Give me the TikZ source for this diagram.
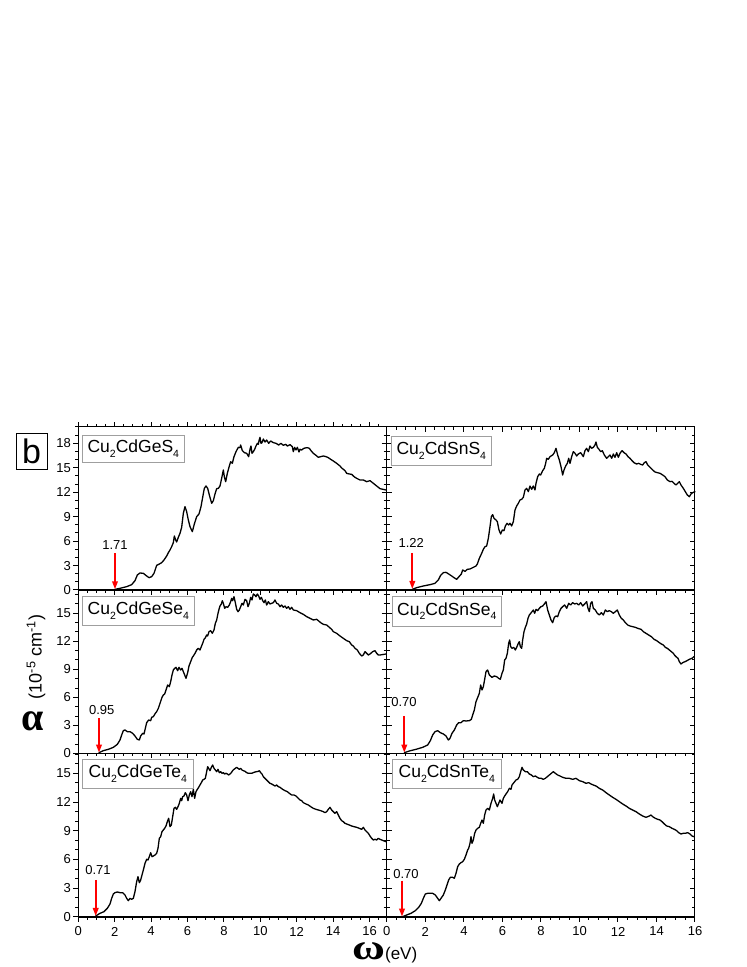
\documentclass[tikz,border=0pt]{standalone}
\usepackage{fontspec}
\setmainfont{Liberation Sans}
\newfontfamily\grkfont{Liberation Serif}
\usetikzlibrary{arrows.meta}
\newcommand\mysub[1]{\raisebox{-4.5pt}{\fontsize{10.5}{10.5}\selectfont #1}}
\begin{document}
\begin{tikzpicture}[x=1pt,y=1pt,
  frame/.style={line width=1.4pt, black},
  tickline/.style={line width=1pt, black},
  curve/.style={line width=1.3pt, black, line join=round, line cap=round},
  gaparrow/.style={draw=red, line width=1.8pt, -{Triangle[length=8pt,width=5.5pt,fill=red]}},
  ticklab/.style={font=\fontsize{13}{15}\selectfont, inner sep=0pt},
  namebox/.style={draw=gray!75, line width=0.8pt, inner sep=0pt, font=\fontsize{17.5}{19}\selectfont},
]
\useasboundingbox (0,0) rectangle (747,967);
\fill[white] (0,0) rectangle (747,967);

% ---------- ticks ----------
\foreach \yb in {377,213.5,50}{
  \foreach \k in {0,2,...,16}{\draw[tickline] (78.3+18.2*\k,\yb) -- ++(0,-5);}
  \foreach \k in {0.5,1,...,16.5}{\draw[tickline] (78.3+18.2*\k,\yb) -- ++(0,-3);}
  \foreach \k in {0,2,...,16}{\draw[tickline] (386.5+19.27*\k,\yb) -- ++(0,-5);}
  \foreach \k in {0.5,1,...,15.5}{\draw[tickline] (386.5+19.27*\k,\yb) -- ++(0,-3);}
}
\foreach \k in {0,2,...,16}{\draw[tickline] (78.3+18.2*\k,540.3) -- ++(0,5);}
\foreach \k in {0.5,1,...,16.5}{\draw[tickline] (78.3+18.2*\k,540.3) -- ++(0,3);}
\foreach \k in {2,4,...,14}{\draw[tickline] (386.5+19.27*\k,540.3) -- ++(0,-5);}
\foreach \k in {0.5,1,...,15.5}{\draw[tickline] (386.5+19.27*\k,540.3) -- ++(0,-3);}

\foreach \yb/\sy/\ymaj/\ymin in {377/8.15/18/20, 213.5/9.35/15/17, 50/9.58/15/17}{
  \foreach \v in {0,3,...,\ymaj}{
    \draw[tickline] (78.3,\yb+\sy*\v) -- ++(-5,0);
    \draw[tickline] (381.5,\yb+\sy*\v) -- ++(10,0);
    \draw[tickline] (694.7,\yb+\sy*\v) -- ++(-5,0);
  }
  \foreach \v in {1,...,\ymin}{
    \draw[tickline] (78.3,\yb+\sy*\v) -- ++(-3,0);
    \draw[tickline] (383.5,\yb+\sy*\v) -- ++(6,0);
    \draw[tickline] (694.7,\yb+\sy*\v) -- ++(-3,0);
  }
}

% ---------- frames ----------
\draw[frame] (78.3,50) rectangle (694.7,540.3);
\draw[frame] (78.3,377) -- (694.7,377);
\draw[frame] (78.3,213.5) -- (694.7,213.5);
\draw[frame] (386.5,50) -- (386.5,540.3);

% ---------- tick labels ----------
\foreach \v in {0,3,...,18}{\node[ticklab, anchor=east] (ya\v) at (71,377+8.15*\v) {\v};}
\foreach \v in {0,3,...,15}{\node[ticklab, anchor=east] (yb\v) at (71,213.5+9.35*\v) {\v};}
\foreach \v in {0,3,...,15}{\node[ticklab, anchor=east] (yc\v) at (71,50+9.58*\v) {\v};}
\foreach \k in {0,2,...,16}{\node[ticklab] (xl\k) at (78.3+18.2*\k,35.5) {\k};}
\foreach \k in {0,2,...,16}{\node[ticklab] (xr\k) at (386.8+19.27*\k,35.5) {\k};}

% ---------- curves ----------
% A: Cu2CdGeS4
\begin{scope}[shift={(0,557)}, xscale=0.33333, yscale=-0.33333]
\draw[curve] plot coordinates {(345,538) (360,535) (380,530) (395,524) (405,512) (412,495) (420,489) (430,490) (440,498) (447,503) (455,500) (462,490) (470,466) (478,462) (485,458) (492,450) (500,438) (505,428) (510,420) (515,410) (520,398) (523,378) (527,390) (530,396) (535,382) (540,370) (545,352) (550,310) (555,290) (560,305) (565,330) (570,350) (577,365) (583,342) (590,320) (597,312) (603,290) (608,262) (613,235) (618,228) (623,235) (628,255) (635,280) (640,272) (645,252) (650,236) (655,235) (660,228) (665,205) (670,180) (673,200) (677,215) (682,190) (688,168) (692,155) (697,160) (702,140) (708,125) (715,112) (720,113) (722,105) (727,122) (733,128) (740,130) (746,140) (750,118) (753,108) (756,130) (760,125) (764,118) (768,108) (772,100) (775,103) (778,88) (780,82) (783,100) (786,98) (790,87) (795,96) (800,90) (806,100) (812,93) (820,98) (828,100) (836,105) (843,100) (850,106) (857,103) (862,108) (870,104) (877,110) (880,125) (884,112) (888,120) (892,112) (897,126) (900,118) (905,120) (910,116) (915,114) (922,113) (928,115) (933,122) (940,130) (948,136) (955,142) (962,140) (970,138) (978,140) (985,143) (992,148) (1000,153) (1010,160) (1020,168) (1025,174) (1030,178) (1035,182) (1040,190) (1048,192) (1055,193) (1060,198) (1065,202) (1070,205) (1080,210) (1090,210) (1100,215) (1110,212) (1120,220) (1130,228) (1140,236) (1158,240)};
\end{scope}
% B: Cu2CdSnS4
\begin{scope}[shift={(370,557)}, xscale=0.33333, yscale=-0.33333]
\draw[curve] plot coordinates {(127,538) (140,533) (160,528) (180,524) (195,520) (205,510) (212,496) (220,488) (228,487) (236,492) (245,498) (252,503) (260,508) (267,500) (274,492) (278,480) (285,484) (292,478) (300,477) (310,472) (318,468) (322,462) (328,445) (335,430) (340,418) (345,410) (350,408) (355,385) (360,350) (364,320) (368,314) (372,325) (378,330) (382,335) (387,360) (392,372) (397,360) (402,362) (406,348) (411,340) (416,345) (420,340) (425,348) (430,335) (435,300) (440,288) (445,280) (450,270) (455,268) (460,262) (465,240) (470,235) (475,245) (480,228) (485,238) (490,228) (495,240) (498,220) (503,200) (508,192) (512,195) (518,182) (523,175) (527,160) (530,145) (535,148) (540,140) (548,135) (553,128) (558,115) (563,135) (568,150) (573,170) (578,195) (582,180) (587,168) (592,160) (596,145) (600,160) (605,140) (610,125) (615,130) (620,138) (625,132) (632,128) (640,140) (645,122) (650,115) (655,125) (660,108) (665,115) (670,112) (675,105) (678,96) (682,112) (687,118) (692,125) (697,122) (703,135) (710,145) (715,140) (720,135) (725,145) (730,132) (735,142) (740,128) (745,142) (750,130) (756,122) (762,128) (768,132) (774,140) (780,145) (786,152) (792,158) (800,162) (806,160) (812,163) (818,165) (823,158) (828,155) (833,165) (840,172) (848,180) (855,186) (862,188) (870,190) (878,195) (885,200) (892,210) (900,215) (906,214) (912,220) (918,225) (923,220) (928,215) (933,225) (940,235) (946,245) (952,255) (958,260) (963,252) (968,248) (975,245)};
\end{scope}
% C: Cu2CdGeSe4
\begin{scope}[shift={(0,387)}, xscale=0.33333, yscale=-0.33333]
\draw[curve] plot coordinates {(297,518) (310,512) (325,508) (340,502) (352,493) (360,480) (365,465) (370,452) (375,450) (382,455) (390,455) (398,460) (405,468) (412,478) (418,480) (422,468) (428,460) (432,462) (436,445) (440,428) (446,420) (452,422) (455,412) (460,410) (466,400) (470,395) (475,385) (480,370) (486,352) (490,345) (494,342) (498,330) (503,315) (508,320) (512,305) (516,285) (520,270) (524,265) (528,262) (533,272) (537,262) (542,270) (546,265) (550,275) (554,285) (558,295) (563,278) (567,258) (572,245) (577,232) (580,228) (585,220) (590,210) (595,205) (600,210) (604,200) (608,190) (612,178) (615,175) (620,165) (623,168) (627,155) (632,152) (637,160) (642,150) (646,130) (650,120) (654,100) (657,88) (660,78) (664,72) (667,62) (670,70) (674,85) (678,80) (683,82) (688,75) (692,65) (695,55) (698,62) (702,50) (706,68) (710,88) (714,95) (718,90) (722,80) (726,70) (730,75) (735,58) (740,62) (744,80) (748,70) (752,52) (756,60) (760,42) (764,45) (768,50) (772,42) (776,48) (780,58) (784,52) (788,62) (792,68) (796,60) (800,75) (805,65) (810,72) (815,70) (820,68) (825,60) (830,70) (835,72) (840,80) (845,75) (850,82) (855,78) (860,85) (865,80) (870,88) (875,82) (880,90) (890,92) (900,98) (910,103) (920,110) (930,115) (940,120) (950,118) (955,122) (962,128) (970,133) (980,135) (988,142) (995,148) (1000,155) (1010,160) (1020,168) (1030,175) (1040,182) (1048,185) (1055,195) (1060,198) (1065,205) (1072,210) (1078,220) (1085,228) (1090,225) (1095,215) (1100,220) (1105,225) (1110,222) (1118,215) (1125,212) (1130,220) (1135,225) (1140,225) (1158,222)};
\end{scope}
% D: Cu2CdSnSe4 and F: Cu2CdSnTe4
\begin{scope}[shift={(386,377)}, xscale=0.33333, yscale=-0.33333]
\draw[curve] plot coordinates {(55,488) (70,483) (90,478) (110,472) (125,465) (133,452) (140,435) (147,425) (155,422) (163,428) (172,432) (180,438) (187,450) (192,445) (198,430) (205,420) (212,405) (218,398) (225,398) (232,392) (240,393) (250,392) (256,388) (260,375) (265,360) (270,335) (276,320) (280,310) (284,285) (288,300) (292,290) (296,268) (300,245) (305,240) (310,255) (318,262) (325,258) (332,260) (338,265) (343,268) (348,250) (352,240) (356,210) (360,205) (364,190) (368,160) (371,150) (374,170) (378,175) (383,172) (388,180) (392,172) (397,160) (400,155) (403,170) (407,175) (410,150) (414,125) (418,112) (422,102) (426,85) (430,75) (434,70) (438,65) (442,60) (446,70) (450,58) (455,62) (460,55) (465,50) (470,48) (475,42) (480,35) (485,60) (490,75) (495,90) (500,98) (505,82) (510,78) (515,80) (520,65) (525,55) (530,50) (536,45) (542,55) (548,40) (554,45) (560,38) (566,42) (572,40) (578,45) (584,38) (590,48) (596,42) (602,35) (606,55) (610,65) (614,40) (618,35) (622,55) (628,60) (634,70) (640,75) (646,68) (652,75) (658,60) (664,65) (670,62) (676,65) (682,70) (688,65) (694,60) (700,75) (706,85) (712,90) (718,98) (725,105) (732,108) (740,110) (748,112) (755,115) (765,118) (772,125) (780,130) (788,135) (796,140) (804,148) (812,152) (820,158) (826,162) (832,165) (838,172) (844,175) (850,180) (856,185) (862,190) (866,196) (870,200) (876,205) (880,215) (885,222) (890,218) (897,215) (903,212) (910,208) (918,205) (924,200)};
\draw[curve] plot coordinates {(50,980) (62,975) (75,970) (88,962) (98,952) (106,940) (112,925) (118,912) (125,910) (132,910) (140,910) (148,915) (155,925) (160,932) (165,925) (172,915) (178,900) (183,885) (188,870) (193,862) (200,862) (205,865) (210,850) (215,830) (220,822) (225,818) (230,815) (235,808) (240,795) (245,780) (248,775) (252,760) (255,740) (258,760) (262,750) (266,730) (270,720) (275,715) (280,712) (284,700) (288,690) (292,700) (296,675) (300,660) (305,655) (310,660) (315,640) (320,625) (323,612) (326,630) (330,640) (334,650) (338,640) (342,630) (348,640) (352,625) (356,618) (360,612) (365,605) (370,595) (375,598) (378,585) (382,580) (386,575) (390,570) (395,568) (400,560) (404,545) (408,532) (412,540) (418,545) (424,545) (430,552) (436,555) (442,560) (448,558) (454,562) (460,565) (466,565) (472,568) (478,565) (484,560) (490,555) (496,550) (502,545) (508,550) (515,555) (522,558) (530,562) (540,565) (550,565) (560,568) (570,565) (580,572) (590,575) (600,580) (608,578) (615,582) (622,585) (630,588) (640,595) (650,600) (660,608) (670,615) (680,622) (690,628) (700,635) (710,642) (720,648) (730,655) (740,660) (750,665) (760,672) (770,678) (780,682) (785,680) (790,678) (795,675) (800,680) (808,685) (815,688) (822,690) (828,695) (835,702) (842,708) (850,710) (858,715) (865,718) (872,722) (878,728) (885,732) (892,730) (898,730) (905,728) (912,732) (918,738) (924,740)};
\end{scope}
% E: Cu2CdGeTe4
\begin{scope}[shift={(0,217)}, xscale=0.33333, yscale=-0.33333]
\draw[curve] plot coordinates {(287,498) (300,490) (312,485) (322,475) (330,462) (335,445) (340,432) (345,428) (352,426) (360,428) (368,428) (375,435) (380,445) (385,452) (390,445) (395,448) (400,445) (405,425) (410,395) (414,380) (418,398) (422,390) (426,375) (430,360) (435,340) (440,328) (444,330) (448,320) (452,308) (456,320) (460,318) (465,315) (470,310) (474,295) (478,265) (482,260) (486,245) (490,240) (494,235) (498,228) (502,215) (506,205) (510,230) (514,225) (518,200) (522,175) (526,172) (530,178) (534,170) (538,160) (542,145) (545,152) (548,140) (552,138) (556,128) (560,135) (564,152) (568,135) (572,125) (576,140) (580,118) (584,145) (588,125) (592,118) (596,112) (600,105) (604,98) (608,90) (612,88) (616,85) (620,65) (623,50) (626,55) (630,62) (634,52) (638,45) (642,55) (646,60) (650,65) (654,58) (658,68) (662,65) (666,70) (670,68) (674,72) (678,70) (682,72) (686,75) (690,72) (694,68) (698,62) (702,58) (706,55) (710,52) (714,55) (718,58) (722,55) (726,60) (730,62) (735,64) (740,68) (745,70) (750,70) (755,70) (760,68) (765,66) (770,65) (775,64) (778,62) (782,68) (786,72) (790,80) (795,85) (800,90) (805,95) (810,100) (815,102) (820,105) (825,108) (830,105) (835,110) (840,112) (848,118) (855,122) (862,125) (868,130) (875,135) (882,135) (888,138) (895,145) (900,150) (905,152) (910,158) (918,162) (925,165) (932,170) (940,175) (948,178) (955,180) (962,182) (970,185) (975,188) (980,185) (985,178) (990,172) (995,180) (1000,185) (1005,190) (1010,185) (1015,195) (1020,205) (1025,212) (1030,215) (1035,220) (1040,222) (1048,225) (1055,228) (1062,230) (1070,232) (1078,235) (1085,238) (1090,232) (1095,240) (1100,245) (1105,250) (1110,258) (1115,265) (1120,270) (1125,268) (1130,270) (1135,265) (1140,268) (1150,272) (1158,275)};
\end{scope}

% ---------- compound name boxes ----------
\node[namebox, minimum width=102pt, minimum height=27.7pt] (boxA) at (133.3,518.2) {Cu\mysub{2}CdGeS\mysub{4}};
\node[namebox, minimum width=99.3pt, minimum height=29pt] (boxB) at (441.3,516.5) {Cu\mysub{2}CdSnS\mysub{4}};
\node[namebox, minimum width=112pt, minimum height=29pt] (boxC) at (138.3,356.5) {Cu\mysub{2}CdGeSe\mysub{4}};
\node[namebox, minimum width=108.3pt, minimum height=29.3pt] (boxD) at (446.8,355.6) {Cu\mysub{2}CdSnSe\mysub{4}};
\node[namebox, minimum width=111pt, minimum height=29pt] (boxE) at (137.8,193.2) {Cu\mysub{2}CdGeTe\mysub{4}};
\node[namebox, minimum width=108.3pt, minimum height=29pt] (boxF) at (446.8,193.2) {Cu\mysub{2}CdSnTe\mysub{4}};

% ---------- band gap arrows ----------
\coordinate (aAs) at (115,413.7);   \coordinate (aAe) at (115,377.7);
\coordinate (aBs) at (412.3,414);   \coordinate (aBe) at (412.3,378);
\coordinate (aCs) at (99,248.7);    \coordinate (aCe) at (99,214.3);
\coordinate (aDs) at (404.3,251);   \coordinate (aDe) at (404.3,214.3);
\coordinate (aEs) at (95.7,87);     \coordinate (aEe) at (95.7,51);
\coordinate (aFs) at (402,86.3);    \coordinate (aFe) at (402,50.3);
\foreach \p in {A,B,C,D,E,F}{\draw[gaparrow] (a\p s) -- (a\p e);}
\node[ticklab] (gA) at (115,422) {1.71};
\node[ticklab] (gB) at (411.3,424.2) {1.22};
\node[ticklab] (gC) at (101.7,256.5) {0.95};
\node[ticklab] (gD) at (404,264.7) {0.70};
\node[ticklab] (gE) at (98,96.5) {0.71};
\node[ticklab] (gF) at (406,92.7) {0.70};

% ---------- panel letter and axis titles ----------
\node[draw=black, line width=0.8pt, minimum width=31pt, minimum height=36pt, inner sep=0pt, font=\fontsize{34}{36}\selectfont] (blab) at (31.5,516) {b};
\node[inner sep=0pt, font=\grkfont\bfseries\fontsize{40}{40}\selectfont] (alpha) at (33,246) {α};
\node[rotate=90, inner sep=0pt, font=\fontsize{18}{20}\selectfont] (ylab) at (36,310) {(10\textsuperscript{-5} cm\textsuperscript{-1})};
\node[anchor=base west, inner sep=0pt] (xlab) at (352,8) {{\grkfont\bfseries\fontsize{36}{36}\selectfont\scalebox{1.25}[1]{ω}}{\fontsize{17}{18}\selectfont(eV)}};
\end{tikzpicture}
\end{document}
